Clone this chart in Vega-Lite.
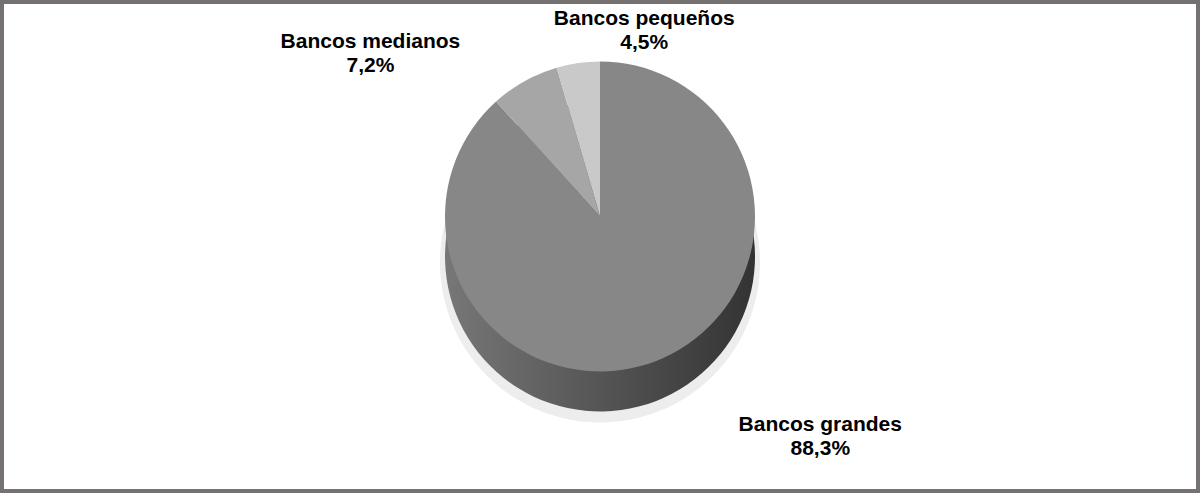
{
  "$schema": "https://vega.github.io/schema/vega-lite/v6.json",
  "width": 1200,
  "height": 493,
  "autosize": {"type": "fit", "contains": "padding"},
  "padding": 0,
  "background": "white",
  "config": {"view": {"stroke": null}},
  "data": {
    "values": [
      {"categoria": "Bancos grandes", "porcentaje": 88.3, "etiqueta": "Bancos grandes\n88,3%"},
      {"categoria": "Bancos medianos", "porcentaje": 7.2, "etiqueta": "Bancos medianos\n7,2%"},
      {"categoria": "Bancos pequeños", "porcentaje": 4.5, "etiqueta": "Bancos pequeños\n4,5%"}
    ]
  },
  "layer": [
    {
      "data": {"values": [{"marco": 1}]},
      "mark": {"type": "rect", "fill": null, "stroke": "#767171", "strokeWidth": 4},
      "encoding": {}
    },
    {
      "encoding": {
        "theta": {"field": "porcentaje", "type": "quantitative", "stack": true},
        "order": {"field": "categoria", "type": "ordinal"}
      },
      "layer": [
        {
          "mark": {"type": "arc", "radius": 160, "yOffset": 16, "color": "#ededed"}
        },
        {
          "mark": {
            "type": "arc",
            "radius": 155,
            "yOffset": 10,
            "color": {
              "gradient": "linear",
              "x1": 0, "y1": 0, "x2": 1, "y2": 0,
              "stops": [
                {"offset": 0, "color": "#777777"},
                {"offset": 1, "color": "#333333"}
              ]
            }
          }
        },
        {
          "mark": {"type": "arc", "radius": 155, "yOffset": -30},
          "encoding": {
            "color": {
              "field": "categoria",
              "type": "nominal",
              "scale": {
                "domain": ["Bancos grandes", "Bancos medianos", "Bancos pequeños"],
                "range": ["#878787", "#a6a6a6", "#c9c9c9"]
              },
              "legend": null
            }
          }
        },
        {
          "mark": {"type": "text", "radius": 190, "yOffset": -30, "dx": 152, "dy": 31, "font": "Liberation Sans", "fontWeight": "bold", "fontSize": 21, "lineBreak": "\n", "lineHeight": 24, "align": "center", "baseline": "middle", "color": "#000000"},
          "encoding": {
            "text": {"field": "etiqueta", "type": "nominal"},
            "opacity": {"condition": {"test": "datum.categoria === 'Bancos grandes'", "value": 1}, "value": 0}
          }
        },
        {
          "mark": {"type": "text", "radius": 190, "yOffset": -30, "dx": -137, "dy": -9, "font": "Liberation Sans", "fontWeight": "bold", "fontSize": 21, "lineBreak": "\n", "lineHeight": 24, "align": "center", "baseline": "middle", "color": "#000000"},
          "encoding": {
            "text": {"field": "etiqueta", "type": "nominal"},
            "opacity": {"condition": {"test": "datum.categoria === 'Bancos medianos'", "value": 1}, "value": 0}
          }
        },
        {
          "mark": {"type": "text", "radius": 190, "yOffset": -30, "dx": 71, "dy": -9, "font": "Liberation Sans", "fontWeight": "bold", "fontSize": 21, "lineBreak": "\n", "lineHeight": 24, "align": "center", "baseline": "middle", "color": "#000000"},
          "encoding": {
            "text": {"field": "etiqueta", "type": "nominal"},
            "opacity": {"condition": {"test": "datum.categoria === 'Bancos pequeños'", "value": 1}, "value": 0}
          }
        }
      ]
    }
  ]
}
